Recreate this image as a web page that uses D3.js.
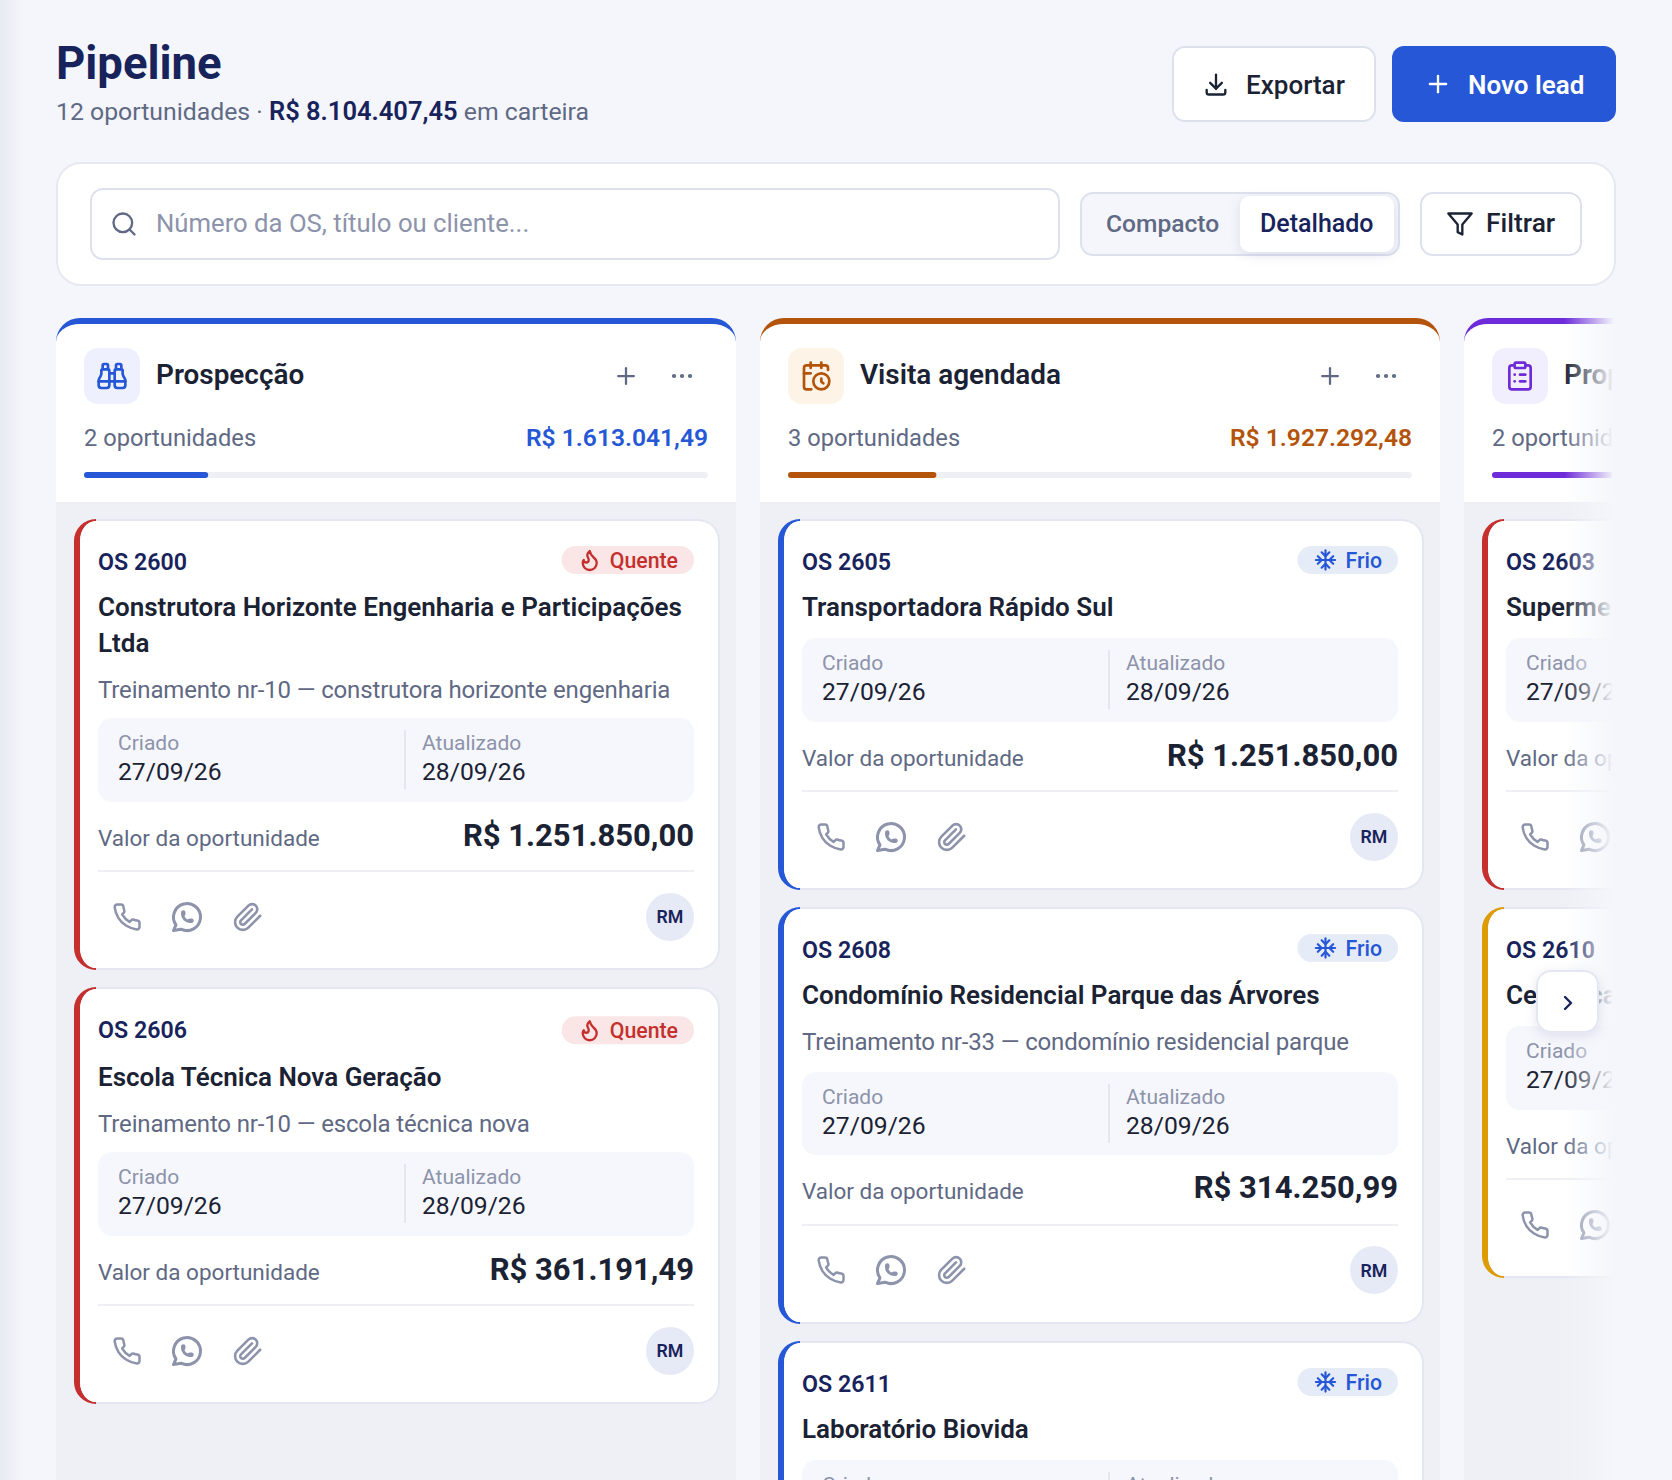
<!doctype html>
<html>
  <head>
    <meta charset="utf-8">
    <script src="https://d3js.org/d3.v7.min.js"></script>
    <style>
      html, body { margin: 0; padding: 0; background: #f4f6fb; overflow: hidden; }
      svg { display: block; }
      text { font-family: "Roboto", sans-serif; }
    </style>
  </head>
  <body>
    <svg id="board" width="1672" height="1480"></svg>
    <script>
      // values
      const pageTitle = "Pipeline";
      const totalCount = "12 oportunidades · ";
      const totalLabel = "R$ 8.104.407,45";
      const totalSuffix = " em carteira";
      const totalValue = 8104407.45;
      const searchHint = "Número da OS, título ou cliente...";

      const stageNames = ["Prospecção", "Visita agendada", "Proposta enviada"];
      const stageCounts = ["2 oportunidades", "3 oportunidades", "2 oportunidades"];
      const stageValues = [1613041.49, 1927292.48, 1890000.00];
      const stageColors = ["#2557d6", "#b4530a", "#6d2bd9"];
      const stageTints = ["#eef1fd", "#fdf3e6", "#f1eefd"];
      const stageIcons = ["binoculars", "calendar", "clipboard"];

      const cardIds = [["OS 2600", "OS 2606"], ["OS 2605", "OS 2608", "OS 2611"], ["OS 2603", "OS 2610"]];
      const cardTitles = [
        [["Construtora Horizonte Engenharia e Participações", "Ltda"], ["Escola Técnica Nova Geração"]],
        [["Transportadora Rápido Sul"], ["Condomínio Residencial Parque das Árvores"], ["Laboratório Biovida"]],
        [["Supermercado Central"], ["Cerâmica Santa Clara"]]
      ];
      const cardSubs = [
        ["Treinamento nr-10 — construtora horizonte engenharia", "Treinamento nr-10 — escola técnica nova"],
        ["", "Treinamento nr-33 — condomínio residencial parque", ""],
        ["", ""]
      ];
      const cardValues = [
        ["R$ 1.251.850,00", "R$ 361.191,49"],
        ["R$ 1.251.850,00", "R$ 314.250,99", ""],
        ["", ""]
      ];
      const cardHeat = [["Quente", "Quente"], ["Frio", "Frio", "Frio"], ["", ""]];
      const cardEdge = [["#c5302e", "#c5302e"], ["#2557d6", "#2557d6", "#2557d6"], ["#c5302e", "#dd9b06"]];
      const createdDate = "27/09/26";
      const updatedDate = "28/09/26";

      const ink = "#1a2233", navy = "#18235c", slate = "#5f6984", mute = "#8c93ab", line = "#dde1ee";

      const icons = {
        download: ["M4 17v2a2 2 0 0 0 2 2h12a2 2 0 0 0 2-2v-2", "M7 11l5 5l5-5", "M12 4v12"],
        plus: ["M12 5v14", "M5 12h14"],
        search: ["M19 11a8 8 0 1 1-16 0a8 8 0 1 1 16 0", "M21 21l-4.3-4.3"],
        filter: ["M22 3H2l8 9.46V19l4 2v-8.54L22 3z"],
        binoculars: ["M10 10h4", "M19 7V4a1 1 0 0 0-1-1h-2a1 1 0 0 0-1 1v3", "M20 21a2 2 0 0 0 2-2v-3.851c0-1.39-2-2.962-2-4.829V8a1 1 0 0 0-1-1h-4a1 1 0 0 0-1 1v11a2 2 0 0 0 2 2z", "M22 16H2", "M4 21a2 2 0 0 1-2-2v-3.851c0-1.39 2-2.962 2-4.829V8a1 1 0 0 1 1-1h4a1 1 0 0 1 1 1v11a2 2 0 0 1-2 2z", "M9 7V4a1 1 0 0 0-1-1H6a1 1 0 0 0-1 1v3"],
        calendar: ["M21 7.5V6a2 2 0 0 0-2-2H5a2 2 0 0 0-2 2v14a2 2 0 0 0 2 2h3.5", "M16 2v4", "M8 2v4", "M3 10h5", "M17.5 17.5L16 16.3V14", "M22 16a6 6 0 1 1-12 0a6 6 0 1 1 12 0"],
        clipboard: ["M9 2h6a1 1 0 0 1 1 1v2a1 1 0 0 1-1 1H9a1 1 0 0 1-1-1V3a1 1 0 0 1 1-1z", "M16 4h2a2 2 0 0 1 2 2v14a2 2 0 0 1-2 2H6a2 2 0 0 1-2-2V6a2 2 0 0 1 2-2h2", "M12 11h4", "M12 16h4", "M8 11h.01", "M8 16h.01"],
        phone: ["M22 16.92v3a2 2 0 0 1-2.18 2 19.79 19.79 0 0 1-8.63-3.07 19.5 19.5 0 0 1-6-6 19.79 19.79 0 0 1-3.07-8.67A2 2 0 0 1 4.11 2h3a2 2 0 0 1 2 1.72 12.84 12.84 0 0 0 .7 2.81 2 2 0 0 1-.45 2.11L8.09 9.91a16 16 0 0 0 6 6l1.27-1.27a2 2 0 0 1 2.11-.45 12.84 12.84 0 0 0 2.81.7A2 2 0 0 1 22 16.92z"],
        whatsapp: ["M3 21l1.65-3.8a9 9 0 1 1 3.4 2.9l-5.05.9", "M9 10a.5.5 0 0 0 1 0v-1a.5.5 0 0 0-1 0v1a5 5 0 0 0 5 5h1a.5.5 0 0 0 0-1h-1a.5.5 0 0 0 0 1"],
        clip: ["M21.44 11.05l-9.19 9.19a6 6 0 0 1-8.49-8.49l8.57-8.57A4 4 0 1 1 18 8.84l-8.59 8.57a2 2 0 0 1-2.83-2.83l8.49-8.48"],
        flame: ["M8.5 14.5A2.5 2.5 0 0 0 11 12c0-1.38-.5-2-1-3-1.072-2.143-.224-4.054 2-6 .5 2.5 2 4.9 4 6.5 2 1.6 3 3.5 3 5.5a7 7 0 1 1-14 0c0-1.153.433-2.294 1-3a2.5 2.5 0 0 0 2.5 2.5z"],
        snow: ["M2 12h20", "M12 2v20", "M20 16l-4-4l4-4", "M4 8l4 4l-4 4", "M16 4l-4 4l-4-4", "M8 20l4-4l4 4"],
        chevron: ["M9 18l6-6l-6-6"]
      };

      const svg = d3.select("#board");
      const defs = svg.append("defs");

      const fade = defs.append("linearGradient").attr("id", "fade");
      fade.append("stop").attr("offset", 0).attr("stop-color", "#f4f6fb").attr("stop-opacity", 0);
      fade.append("stop").attr("offset", 1).attr("stop-color", "#f4f6fb").attr("stop-opacity", 1);
      const strip = defs.append("linearGradient").attr("id", "strip");
      strip.append("stop").attr("offset", 0).attr("stop-color", "#e8eaf2");
      strip.append("stop").attr("offset", 1).attr("stop-color", "#f4f6fb");
      const blur = defs.append("filter").attr("id", "soft").attr("x", "-40%").attr("y", "-40%").attr("width", "180%").attr("height", "180%");
      blur.append("feDropShadow").attr("dx", 0).attr("dy", 3).attr("stdDeviation", 6).attr("flood-color", "#18235c").attr("flood-opacity", 0.1);
      defs.append("clipPath").attr("id", "boardClip").append("rect").attr("x", 0).attr("y", 0).attr("width", 1614).attr("height", 1480);

      svg.append("rect").attr("width", 1672).attr("height", 1480).attr("fill", "#f4f6fb");
      svg.append("rect").attr("width", 24).attr("height", 1480).attr("fill", "url(#strip)");

      function label(parent, x, y, str, size, weight, color, anchor) {
        return parent.append("text").attr("x", x).attr("y", y).text(str)
          .attr("font-size", size).attr("font-weight", weight).attr("fill", color)
          .attr("text-anchor", anchor || "start");
      }
      function icon(parent, name, cx, cy, size, color, width) {
        const g = parent.append("g")
          .attr("transform", "translate(" + (cx - size / 2) + "," + (cy - size / 2) + ") scale(" + size / 24 + ")")
          .attr("fill", "none").attr("stroke", color).attr("stroke-width", width || 2)
          .attr("stroke-linecap", "round").attr("stroke-linejoin", "round");
        g.selectAll("path").data(icons[name]).enter().append("path").attr("d", d => d);
      }
      function box(parent, x, y, w, h, r, fill, stroke, sw) {
        return parent.append("rect").attr("x", x + (sw || 0) / 2).attr("y", y + (sw || 0) / 2)
          .attr("width", w - (sw || 0)).attr("height", h - (sw || 0)).attr("rx", r)
          .attr("fill", fill).attr("stroke", stroke || "none").attr("stroke-width", sw || 0);
      }

      // header
      label(svg, 56, 78.5, pageTitle, 45.5, 700, navy);
      const sub = label(svg, 56, 120, "", 24.8, 400, slate);
      sub.append("tspan").text(totalCount);
      sub.append("tspan").text(totalLabel).attr("font-weight", 600).attr("fill", navy).attr("font-size", 25.5);
      sub.append("tspan").text(totalSuffix);

      box(svg, 1172, 46, 204, 76, 12, "#fff", line, 2);
      icon(svg, "download", 1216, 84, 28, ink, 2);
      label(svg, 1246, 94, "Exportar", 26, 500, ink);
      box(svg, 1392, 46, 224, 76, 12, "#2557d6");
      icon(svg, "plus", 1438, 84, 28, "#fff", 2);
      label(svg, 1468, 94, "Novo lead", 26, 600, "#fff");

      // toolbar
      box(svg, 56, 162, 1560, 124, 24, "#fff", "#e6e9f2", 2);
      box(svg, 90, 188, 970, 72, 12, "#fff", line, 2);
      icon(svg, "search", 124, 224, 28, slate, 2);
      label(svg, 156, 232, searchHint, 25.7, 400, mute);
      box(svg, 1080, 192, 320, 64, 12, "#f4f6fb", line, 2);
      box(svg, 1240, 196, 154, 56, 10, "#fff").attr("filter", "url(#soft)");
      label(svg, 1106, 232, "Compacto", 24.6, 500, slate);
      label(svg, 1260, 232, "Detalhado", 25, 500, navy);
      box(svg, 1420, 192, 162, 64, 12, "#fff", line, 2);
      icon(svg, "filter", 1460, 224, 28, ink, 2);
      label(svg, 1486, 232, "Filtrar", 26.4, 500, ink);

      // columns
      const board = svg.append("g").attr("clip-path", "url(#boardClip)");
      const colX = d3.scaleLinear().domain([0, 1]).range([56, 760]);
      const colW = 680;
      const barW = d3.scaleLinear().domain([0, totalValue]).range([0, 624]);
      const money = v => "R$ " + d3.formatLocale({ decimal: ",", thousands: ".", grouping: [3], currency: ["", ""] }).format(",.2f")(v);

      stageNames.forEach(function (name, i) {
        const x = colX(i), g = board.append("g");
        g.append("path").attr("fill", stageColors[i])
          .attr("d", `M${x},342 A24,24 0 0 1 ${x + 24},318 H${x + colW - 24} A24,24 0 0 1 ${x + colW},342 Z`);
        g.append("path").attr("fill", "#fff")
          .attr("d", `M${x},342 A24,18 0 0 1 ${x + 24},324 H${x + colW - 24} A24,18 0 0 1 ${x + colW},342 V502 H${x} Z`);
        box(g, x, 502, colW, 978, 0, "#eef0f6");

        box(g, x + 28, 348, 56, 56, 14, stageTints[i]);
        icon(g, stageIcons[i], x + 56, 376, 32, stageColors[i], 2);
        label(g, x + 100, 384, name, 27.9, 600, ink);
        icon(g, "plus", x + 570, 376, 27, slate, 2);
        g.selectAll("circle.more").data([-8, 0, 8]).enter().append("circle").attr("class", "more")
          .attr("cx", d => x + 626 + d).attr("cy", 376).attr("r", 2.1).attr("fill", slate);

        label(g, x + 28, 446, stageCounts[i], 23.7, 400, slate);
        if (i < 2) label(g, x + 652, 446, money(stageValues[i]), 24.6, 600, stageColors[i], "end");
        box(g, x + 28, 472, 624, 6, 3, "#eef0f6");
        box(g, x + 28, 472, barW(stageValues[i]), 6, 3, stageColors[i]);

        let top = 519;
        cardIds[i].forEach(function (id, j) {
          top = drawCard(g, x + 18, top, i, j) + 17;
        });
      });

      function drawCard(parent, x, y, i, j) {
        const w = 646, titles = cardTitles[i][j], hint = cardSubs[i][j];
        const heat = cardHeat[i][j];
        // OS 2606 sits a little lower inside its card; OS 2608 has a tighter value row
        const low = (i === 0 && j === 1) ? 1.5 : 0;
        const tight = (i === 1 && j === 1) ? 2 : 0;
        const base = y + 97 + low + (titles.length - 1) * 36;
        let boxTop = y + 119;
        if (hint) boxTop = y + 165;
        if (titles.length > 1) boxTop = y + 199;
        const boxBottom = boxTop + 84, rule = boxBottom + 69, h = rule + 99 - y;

        const c = parent.append("g");
        box(c, x, y, w, h, 22, "#e4e7f1");
        c.append("path").attr("fill", cardEdge[i][j]).attr("d",
          `M${x + 22},${y} A22,22 0 0 0 ${x},${y + 22} V${y + h - 22} A22,22 0 0 0 ${x + 22},${y + h} V${y + h - 2} A16,20 0 0 1 ${x + 6},${y + h - 22} V${y + 22} A16,20 0 0 1 ${x + 22},${y + 2} Z`);
        c.append("path").attr("fill", "#fff").attr("d",
          `M${x + 22},${y + 2} H${x + w - 22} A20,20 0 0 1 ${x + w - 2},${y + 22} V${y + h - 22} A20,20 0 0 1 ${x + w - 22},${y + h - 2} H${x + 22} A16,20 0 0 1 ${x + 6},${y + h - 22} V${y + 22} A16,20 0 0 1 ${x + 22},${y + 2} Z`);

        const left = x + 24, right = x + 620;
        label(c, left, y + 51, cardIds[i][j], 23.2, 600, navy);

        if (heat) {
          const hot = heat === "Quente";
          const colour = hot ? "#c5302e" : "#2557d6";
          const pill = box(c, right - 100, y + 27 + low * 1.5, 100, 28, 14, hot ? "#fae6e6" : "#e6ebf8");
          const tag = label(c, right - 16, y + 49 + low * 1.5, heat, 21.3, 500, colour, "end");
          const tw = tag.node().getComputedTextLength();
          pill.attr("x", right - tw - 64).attr("width", tw + 64);
          icon(c, hot ? "flame" : "snow", right - tw - 36, y + 41 + low * 1.5, hot ? 24 : 23, colour, 2.3);
        }

        titles.forEach((t, k) => label(c, left, base - (titles.length - 1 - k) * 36, t, 26, 600, ink));
        if (hint) label(c, left, base + 46, hint, 24, 400, slate).attr("letter-spacing", -0.15);

        box(c, left, boxTop, 596, 84 - tight / 2, 14, "#f6f7fc");
        label(c, left + 20, boxTop + 32, "Criado", 21, 400, mute);
        label(c, left + 20, boxTop + 62, createdDate, 24.7, 400, ink);
        if (i < 2) {
          c.append("line").attr("x1", left + 307).attr("x2", left + 307).attr("y1", boxTop + 12).attr("y2", boxTop + 71)
            .attr("stroke", "#e4e7f1").attr("stroke-width", 2);
          label(c, left + 324, boxTop + 32, "Atualizado", 21, 400, mute);
          label(c, left + 324, boxTop + 62, updatedDate, 24.7, 400, ink);
        }

        label(c, left, boxBottom + 44 - tight / 2, "Valor da oportunidade", 22.5, 400, slate);
        if (cardValues[i][j]) label(c, right, boxBottom + 44 - tight, cardValues[i][j], 31, 700, ink, "end");
        c.append("line").attr("x1", left).attr("x2", right).attr("y1", rule).attr("y2", rule)
          .attr("stroke", "#eef0f6").attr("stroke-width", 2);

        icon(c, "phone", x + 53, rule + 46 - tight / 2, 30, mute, 2);
        icon(c, "whatsapp", x + 113, rule + 46 - tight / 2, 36, mute, 2);
        icon(c, "clip", x + 174, rule + 46 - tight / 2, 31, mute, 2);
        if (i < 2) {
          c.append("circle").attr("cx", x + 596).attr("cy", rule + 46 - tight / 2).attr("r", 24).attr("fill", "#e6eaf6");
          label(c, x + 596, rule + 52, "RM", 17.8, 600, navy, "middle");
        }
        return y + h;
      }

      // right edge fade and scroll arrow
      svg.append("rect").attr("x", 1564).attr("y", 318).attr("width", 50).attr("height", 1162).attr("fill", "url(#fade)");
      svg.append("rect").attr("x", 1612).attr("y", 324).attr("width", 60).attr("height", 1156).attr("fill", "#f4f6fb");
      box(svg, 1536, 970, 63, 63, 14, "#fff", "#e4e7f1", 2).attr("filter", "url(#soft)");
      icon(svg, "chevron", 1568, 1003, 24, navy, 2.4);
    </script>
  </body>
</html>
